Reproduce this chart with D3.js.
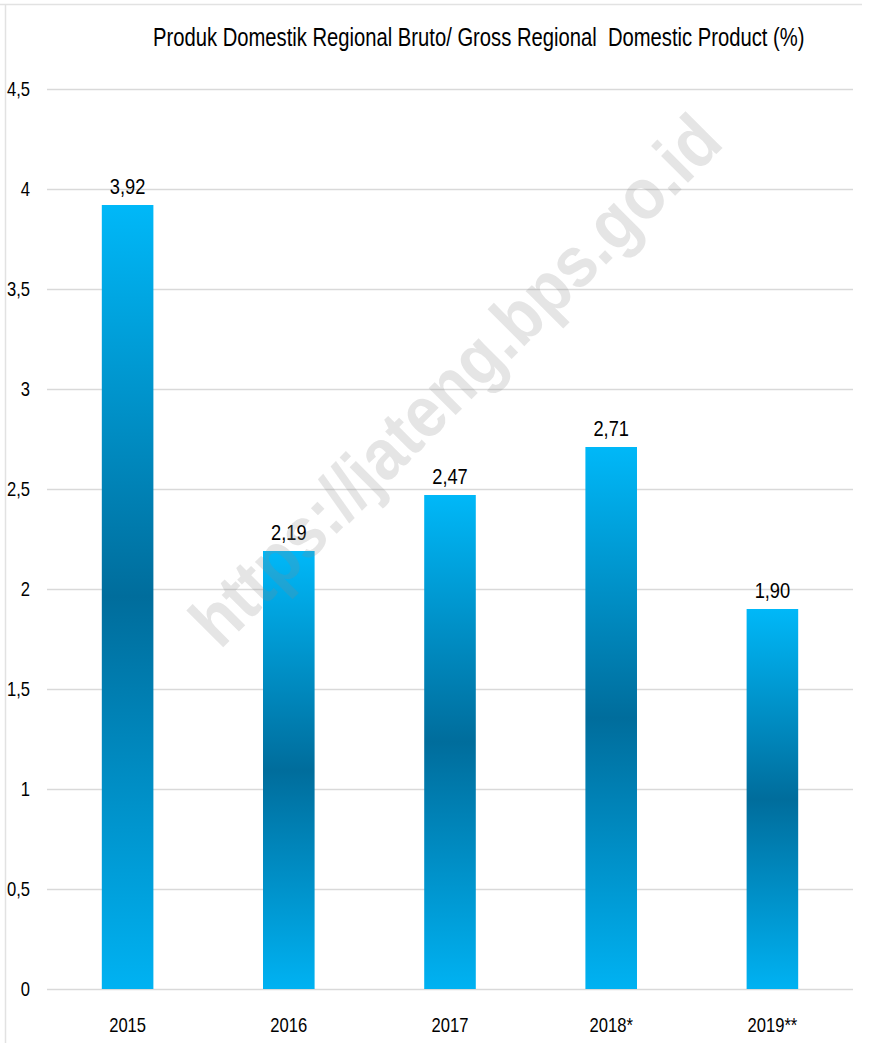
<!DOCTYPE html>
<html>
<head>
<meta charset="utf-8">
<script src="https://cdn.jsdelivr.net/npm/d3@7"></script>
<style>
html,body{margin:0;padding:0;background:#fff;}
svg{display:block;}
</style>
</head>
<body>
<svg id="chart" width="869" height="1043"></svg>
<script>
const categories = ["2015", "2016", "2017", "2018*", "2019**"];
const values = [3.92, 2.19, 2.47, 2.71, 1.90];
const valueLabels = ["3,92", "2,19", "2,47", "2,71", "1,90"];
const yTicks = [0, 0.5, 1, 1.5, 2, 2.5, 3, 3.5, 4, 4.5];
const yTickLabels = ["0", "0,5", "1", "1,5", "2", "2,5", "3", "3,5", "4", "4,5"];
const title = "Produk Domestik Regional Bruto/ Gross Regional  Domestic Product (%)";
const watermark = "https://jateng.bps.go.id";

const W = 869, H = 1043;
const margin = {left: 47, right: 16, top: 89, bottom: 54};
const font = "'Liberation Sans', Arial, sans-serif";
const SX = 0.83;

const svg = d3.select("#chart");

const defs = svg.append("defs");
const grad = defs.append("linearGradient")
  .attr("id", "barGrad")
  .attr("x1", 0).attr("y1", 0).attr("x2", 0).attr("y2", 1);
grad.append("stop").attr("offset", "0%").attr("stop-color", "#00b8f8");
grad.append("stop").attr("offset", "50%").attr("stop-color", "#006d9c");
grad.append("stop").attr("offset", "100%").attr("stop-color", "#00b2f2");

// frame lines
svg.append("line").attr("x1", 0).attr("x2", 862).attr("y1", 4.5).attr("y2", 4.5)
  .attr("stroke", "#e2e2e2").attr("stroke-width", 1.5);
svg.append("line").attr("x1", 5.5).attr("x2", 5.5).attr("y1", 4).attr("y2", H)
  .attr("stroke", "#e2e2e2").attr("stroke-width", 1.5);

const x = d3.scaleBand()
  .domain(categories)
  .range([margin.left, W - margin.right])
  .paddingInner(0.68)
  .paddingOuter(0.34);

const y = d3.scaleLinear()
  .domain([0, 4.5])
  .range([H - margin.bottom, margin.top]);

// gridlines
svg.append("g").selectAll("line").data(yTicks).join("line")
  .attr("x1", margin.left).attr("x2", W - margin.right)
  .attr("y1", d => y(d) + 0.5).attr("y2", d => y(d) + 0.5)
  .attr("stroke", "#d9d9d9").attr("stroke-width", 1.5);

// condensed text helper
function ctext(g, px, py, str, size, anchor) {
  const t = g.append("g").attr("transform", `translate(${px},${py}) scale(${SX},1)`)
    .append("text")
    .attr("text-anchor", anchor)
    .attr("font-family", font).attr("font-size", size).attr("fill", "#000")
    .text(str);
  return t;
}

// y axis labels (right aligned)
const gy = svg.append("g");
yTicks.forEach((d, i) => ctext(gy, 30, y(d) + 7, yTickLabels[i], 20, "end"));

// x axis labels
const gx = svg.append("g");
categories.forEach(c => ctext(gx, x(c) + x.bandwidth() / 2, y(0) + 43, c, 20, "middle"));

// bars
svg.append("g").selectAll("rect").data(values).join("rect")
  .attr("x", (d, i) => x(categories[i]))
  .attr("width", x.bandwidth())
  .attr("y", d => y(d))
  .attr("height", d => y(0) - y(d))
  .attr("fill", "url(#barGrad)");

// value labels
const gv = svg.append("g");
values.forEach((d, i) => ctext(gv, x(categories[i]) + x.bandwidth() / 2, y(d) - 11, valueLabels[i], 22, "middle"));

// title, scaled to span reference width
const tg = svg.append("g");
const tt = tg.append("text")
  .attr("font-family", font).attr("font-size", 25).attr("fill", "#000")
  .attr("xml:space", "preserve").style("white-space", "pre")
  .text(title);
const natural = tt.node().getComputedTextLength();
tg.attr("transform", `translate(153,46) scale(${652 / natural},1)`);

// watermark
svg.append("text")
  .attr("transform", "translate(455,380) rotate(-45)")
  .attr("text-anchor", "middle").attr("dy", "0.35em")
  .attr("textLength", 715).attr("lengthAdjust", "spacingAndGlyphs")
  .attr("font-family", "'Liberation Sans', Arial, sans-serif")
  .attr("font-weight", "bold").attr("font-size", 72)
  .attr("fill", "#8a8a8a").attr("fill-opacity", 0.22)
  .text(watermark);
</script>
</body>
</html>
